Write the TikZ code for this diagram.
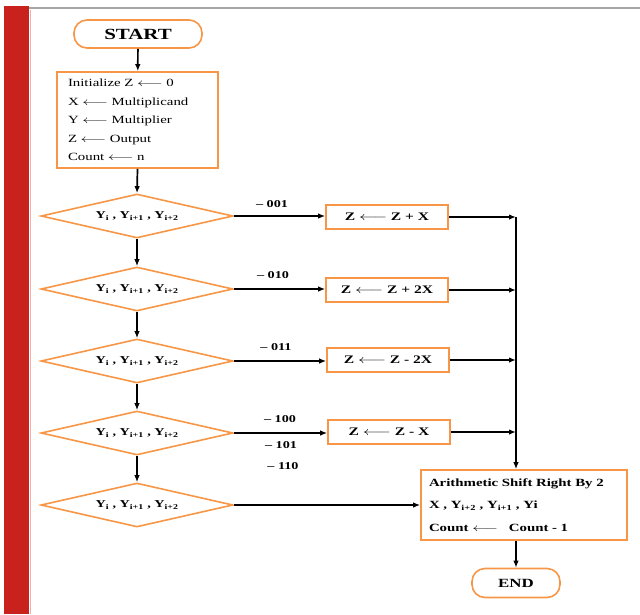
\documentclass[tikz,border=0pt]{standalone}
\usepackage{fontspec}
\setmainfont[FakeStretch=1.35]{Liberation Serif}
\usetikzlibrary{arrows.meta,shapes.geometric}
\definecolor{flow}{HTML}{F79646}
\definecolor{sidebar}{HTML}{C9211C}
\definecolor{topline}{HTML}{A6A6A6}
\newcommand{\larr}{\scalebox{1.45}[1]{$\longleftarrow$}}
\newcommand{\yyy}[2]{Y\textsubscript{i} , Y\textsubscript{#1} , Y\textsubscript{#2}}
\begin{document}
\begin{tikzpicture}[x=1pt,y=-1pt,
  terminal/.style={draw=flow, line width=1.6pt, rectangle, rounded corners=13pt,
    inner sep=0pt},
  procbox/.style={draw=flow, line width=1.6pt, rectangle, inner sep=0pt,
    minimum width=122pt, minimum height=24pt, font=\bfseries\fontsize{11.5}{13}\selectfont},
  decision/.style={draw=flow, line width=1.6pt, diamond, aspect=4.4, inner sep=0pt,
    minimum width=192pt, minimum height=44pt, font=\bfseries\fontsize{10.5}{12}\selectfont},
  flowline/.style={line width=1.7pt, -{Latex[length=7pt,width=5.5pt]}},
  code/.style={font=\bfseries\fontsize{10.5}{12}\selectfont, inner sep=0pt},
]
\useasboundingbox (0,0) rectangle (640,614);

% page decoration
\fill[sidebar] (4,6) rectangle (29,614);
\draw[topline, line width=2.5pt] (29,8) -- (640,8);
\draw[sidebar!35, line width=0.8pt] (30.5,10) -- (30.5,614);

% terminals
\node[terminal, minimum width=128pt, minimum height=28pt,
      font=\bfseries\fontsize{15.5}{17}\selectfont] (start) at (138,34) {START};
\node[terminal, minimum width=88pt, minimum height=29pt,
      font=\bfseries\fontsize{12.5}{14}\selectfont] (stop) at (516,583) {END};

% initialisation block
\node[draw=flow, line width=1.6pt, rectangle, minimum width=161pt, minimum height=96pt,
      inner sep=0pt, text width=139pt, align=left,
      font=\fontsize{11}{12}\selectfont] (init) at (137.5,120)
  {Initialize Z \larr{} 0\\[6.5pt]
   X \larr{} Multiplicand\\[6.5pt]
   Y \larr{} Multiplier\\[6.5pt]
   Z \larr{} Output\\[6.5pt]
   Count \larr{} n};

% decisions
\node[decision] (d1) at (137,216) {\yyy{i+1}{i+2}};
\node[decision] (d2) at (137,289) {\yyy{i+1}{i+2}};
\node[decision] (d3) at (137,361) {\yyy{i+1}{i+2}};
\node[decision] (d4) at (137,433) {\yyy{i+1}{i+2}};
\node[decision] (d5) at (137,505) {\yyy{i+1}{i+2}};

% operations
\node[procbox] (b1) at (387,217) {Z \larr{} Z + X};
\node[procbox] (b2) at (387,290) {Z \larr{} Z + 2X};
\node[procbox] (b3) at (388,360) {Z \larr{} Z - 2X};
\node[procbox] (b4) at (389,432) {Z \larr{} Z - X};

% shift block
\node[draw=flow, line width=1.6pt, rectangle, minimum width=206pt, minimum height=70pt,
      inner sep=0pt, text width=190pt, align=left,
      font=\bfseries\fontsize{11}{12}\selectfont] (shift) at (524,505)
  {Arithmetic Shift Right By 2\\[10.5pt]
   X , Y\textsubscript{i+2} , Y\textsubscript{i+1} , Yi\\[10.5pt]
   Count \larr{}\quad Count - 1};

% bus on the right
\coordinate (bus) at (516,217);

% vertical flow
\draw[flowline] (start) -- (init);
\draw[flowline] (init.south) -- (d1.north);
\draw[flowline] (d1) -- (d2);
\draw[flowline] (d2) -- (d3);
\draw[flowline] (d3) -- (d4);
\draw[flowline] (d4) -- (d5);

% branches
\draw[flowline] (d1.east) -- (d1.east -| b1.west);
\draw[flowline] (d2.east) -- (d2.east -| b2.west);
\draw[flowline] (d3.east) -- (d3.east -| b3.west);
\draw[flowline] (d4.east) -- (d4.east -| b4.west);
\draw[flowline] (d5.east) -- (d5.east -| shift.west);

% branch codes
\node[code] (c1) at (272,204) {– 001};
\node[code] (c2) at (273,275) {– 010};
\node[code] (c3) at (276,347) {– 011};
\node[code] (c4) at (280,419) {– 100};
\node[code] (c5) at (281,445) {– 101};
\node[code] (c6) at (283,466) {– 110};

% joining into the bus
\draw[flowline] (b1.east) -- (b1.east -| bus);
\draw[flowline] (b2.east) -- (b2.east -| bus);
\draw[flowline] (b3.east) -- (b3.east -| bus);
\draw[flowline] (b4.east) -- (b4.east -| bus);
\draw[flowline] (bus) -- (bus |- shift.north);

% to the end
\draw[flowline] (shift.south -| stop) -- (stop.north);
\end{tikzpicture}
\end{document}
